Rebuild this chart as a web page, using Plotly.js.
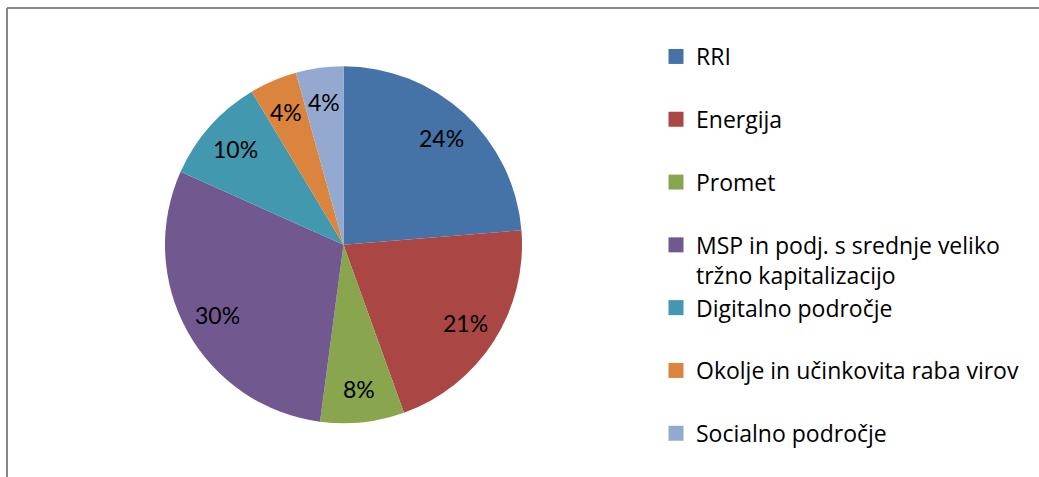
<!DOCTYPE html>
<html><head><meta charset="utf-8">
<script src="https://cdn.plot.ly/plotly-3.0.1.min.js"></script>
<style>html,body{margin:0;padding:0;background:#fff}#chart{width:1039px;height:477px}</style>
</head><body><div id="chart"></div>
<script>
// ---- data ----
const categories = ["RRI", "Energija", "Promet", "MSP in podj. s srednje veliko<br>tržno kapitalizacijo", "Digitalno področje", "Okolje in učinkovita raba virov", "Socialno področje"];
const values = [23.7, 20.8, 7.6, 29.6, 9.7, 4.3, 4.3];
const colors = ["#4572A7", "#AA4643", "#89A54E", "#71588F", "#4198AF", "#DB843D", "#93A9CF"];

// ---- layout geometry ----
const W = 1039, H = 477;
const cx = 343.5, cy = 244.8, R = 178.5;
const FONT = "Lato, 'Open Sans', sans-serif";
const LFONT = "'Open Sans', Lato, sans-serif";

const total = values.reduce((a, b) => a + b, 0);
const pie = {
  type: 'pie', labels: categories, values: values, sort: false, direction: 'clockwise', rotation: 0,
  marker: {colors: colors, line: {width: 0}}, textinfo: 'none', textposition: 'none', showlegend: false,
  domain: {x: [(cx - R) / W, (cx + R) / W], y: [1 - (cy + R) / H, 1 - (cy - R) / H]},
  hoverinfo: 'label+percent'
};

// legend entries (one group per category; each padded to two lines for even spacing)
const last = categories.length - 1;
const legendTraces = categories.map((c, i) => ({
  type: 'scatter', mode: 'markers', x: [null], y: [null],
  name: (c.includes('<br>') || i === last) ? c : c + '<br> ',
  legendgroup: 'g' + i,
  marker: {symbol: 'square', size: 15, color: colors[i]},
  hoverinfo: 'skip'
}));

// percentage labels placed along each slice's bisector
let cum = 0;
const annotations = values.map((v) => {
  const frac = (cum + v / 2) / total;
  cum += v;
  const th = 2 * Math.PI * frac;
  const rr = 0.81 * R;
  const px = cx + rr * Math.sin(th), py = cy - rr * Math.cos(th);
  return {x: px / W, y: 1 - py / H, xref: 'paper', yref: 'paper', showarrow: false,
    xanchor: 'center', yanchor: 'middle', text: Math.round(v / total * 100) + '%',
    font: {family: FONT, size: 23, color: '#000'}};
});

const layout = {
  width: W, height: H, margin: {l: 0, r: 0, t: 0, b: 0},
  paper_bgcolor: '#fff', plot_bgcolor: 'rgba(0,0,0,0)',
  xaxis: {visible: false}, yaxis: {visible: false},
  font: {family: FONT, color: '#000'},
  showlegend: true,
  legend: {x: 656 / W, y: 1 - 35 / H, xanchor: 'left', yanchor: 'top', traceorder: 'grouped',
    tracegroupgap: 0, valign: 'top', font: {family: LFONT, size: 23, color: '#000'},
    bgcolor: 'rgba(0,0,0,0)', borderwidth: 0},
  annotations: annotations,
  shapes: [
    {type: 'line', xref: 'paper', yref: 'paper', x0: 7 / W, x1: 7 / W, y0: -0.1, y1: 1 - 8 / H, line: {color: '#878787', width: 2}},
    {type: 'line', xref: 'paper', yref: 'paper', x0: 7 / W, x1: 1.1, y0: 1 - 8 / H, y1: 1 - 8 / H, line: {color: '#878787', width: 2}}
  ]
};

Plotly.newPlot('chart', [pie].concat(legendTraces), layout, {staticPlot: true, displayModeBar: false});
</script>
</body></html>
